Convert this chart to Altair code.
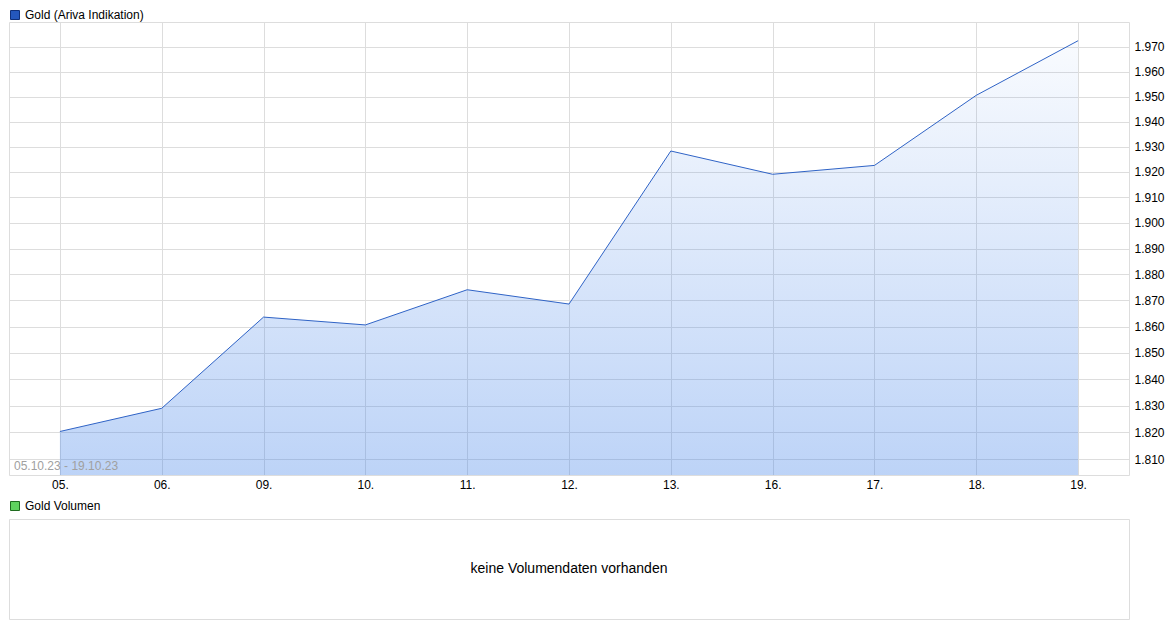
import altair as alt
import pandas as pd

days = ["05.", "06.", "09.", "10.", "11.", "12.", "13.", "16.", "17.", "18.", "19."]
prices = [1820.3, 1829.0, 1863.6, 1860.6, 1874.1, 1868.6, 1928.3, 1919.1, 1922.6, 1950.5, 1972.5]
y_ticks = [1810, 1820, 1830, 1840, 1850, 1860, 1870, 1880, 1890, 1900, 1910, 1920, 1930, 1940, 1950, 1960, 1970]
y_domain = [1804.1, 1980.1]
series_name = "Gold (Ariva Indikation)"
volume_name = "Gold Volumen"
range_label = "05.10.23 - 19.10.23"
no_volume = "keine Volumendaten vorhanden"

W = 1120
H = 453
FONT = "Liberation Sans"

df = pd.DataFrame({"day": days, "price": prices, "series": series_name})

x_enc = alt.X(
    "day:O",
    sort=days,
    scale=alt.Scale(type="point", padding=0.5),
    axis=alt.Axis(title=None, labelAngle=0, ticks=False, domain=False, grid=True,
                  gridColor="#dddddd", labelPadding=4, labelFontSize=12,
                  labelColor="#000000", labelFont=FONT),
)
y_enc = alt.Y(
    "price:Q",
    scale=alt.Scale(type="log", domain=y_domain, nice=False, zero=False),
    axis=alt.Axis(title=None, orient="right", values=y_ticks, ticks=False, domain=False,
                  grid=True, gridColor="#dddddd", labelPadding=5, labelFontSize=12,
                  labelColor="#000000", labelFont=FONT,
                  labelExpr="replace(format(datum.value, ',.0f'), ',', '.')"),
)

base = alt.Chart(df)

area = base.mark_area(
    color=alt.Gradient(
        gradient="linear",
        stops=[
            alt.GradientStop(color="rgba(61,127,232,0.34)", offset=0),
            alt.GradientStop(color="rgba(61,127,232,0.03)", offset=1),
        ],
        x1=1, x2=1, y1=1, y2=0,
    )
).encode(x=x_enc, y=y_enc, y2=alt.Y2(datum=y_domain[0]))

line = base.mark_line(color="#2f63c6", strokeWidth=1).encode(x=x_enc, y=y_enc)

legend_pts = base.mark_point(shape="square", filled=True, opacity=0, size=1).encode(
    x=x_enc, y=y_enc,
    color=alt.Color(
        "series:N",
        scale=alt.Scale(domain=[series_name], range=["#2457bd"]),
        legend=alt.Legend(title=None, orient="none", legendX=0, legendY=-13,
                          symbolType="square", symbolSize=81, symbolOpacity=1,
                          symbolStrokeColor="#10307a", symbolStrokeWidth=1,
                          labelFontSize=12, labelFont=FONT, labelColor="#000000",
                          labelOffset=4, padding=0),
    ),
)

label_df = pd.DataFrame({"t": [range_label]})
range_text = alt.Chart(label_df).mark_text(
    align="left", baseline="alphabetic", fontSize=12, font=FONT, color="#a0a0a0"
).encode(x=alt.value(5), y=alt.value(H - 5), text="t:N")

top = alt.layer(area, line, legend_pts, range_text).properties(width=W, height=H)

vol_df = pd.DataFrame({"series": [volume_name], "msg": [no_volume]})
vol_base = alt.Chart(vol_df)
vol_text = vol_base.mark_text(
    align="center", baseline="middle", fontSize=14, font=FONT, color="#000000"
).encode(x=alt.value(W / 2), y=alt.value(50), text="msg:N")
vol_legend = vol_base.mark_point(shape="square", filled=True, opacity=0, size=1).encode(
    x=alt.value(W / 2), y=alt.value(50),
    color=alt.Color(
        "series:N",
        scale=alt.Scale(domain=[volume_name], range=["#5fd35f"]),
        legend=alt.Legend(title=None, orient="none", legendX=0, legendY=-19,
                          symbolType="square", symbolSize=81, symbolOpacity=1,
                          symbolStrokeColor="#1f6b1f", symbolStrokeWidth=1,
                          labelFontSize=12, labelFont=FONT, labelColor="#000000",
                          labelOffset=4, padding=0),
    ),
)
bottom = alt.layer(vol_text, vol_legend).properties(width=W, height=100)

chart = (
    alt.vconcat(top, bottom, spacing=8)
    .resolve_scale(color="independent")
    .resolve_legend(color="independent")
    .properties(padding=0)
    .configure_view(stroke="#dddddd", strokeWidth=1)
    .configure(font=FONT)
)

chart.save("out.html", embed_options={"renderer": "svg", "actions": False})
